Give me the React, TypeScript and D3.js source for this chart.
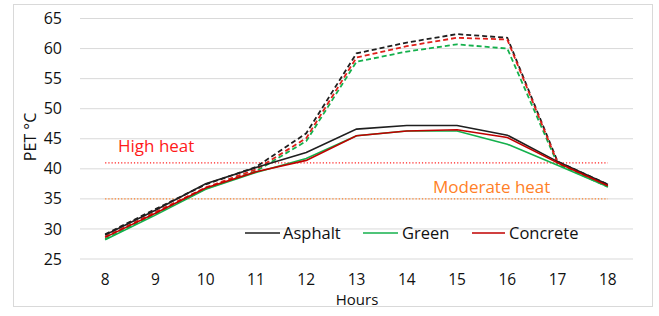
import React from "react";
import * as d3 from "d3";

const hours = [8, 9, 10, 11, 12, 13, 14, 15, 16, 17, 18];
const yTicks = [25, 30, 35, 40, 45, 50, 55, 60, 65];

const asphaltSolid = [29.0, 33.1, 37.5, 40.2, 42.7, 46.6, 47.2, 47.2, 45.6, 41.2, 37.4];
const greenSolid = [28.2, 32.3, 36.6, 39.4, 41.7, 45.5, 46.3, 46.3, 44.1, 40.6, 37.0];
const concreteSolid = [28.6, 32.6, 36.8, 39.5, 41.4, 45.5, 46.3, 46.5, 45.2, 41.0, 37.2];

const asphaltDashed = [29.1, 33.3, 37.4, 40.3, 45.9, 59.2, 61.0, 62.4, 61.8, 41.2, 37.4];
const greenDashed = [28.3, 32.5, 36.7, 39.6, 44.6, 57.8, 59.5, 60.7, 60.0, 40.8, 37.0];
const concreteDashed = [28.7, 32.8, 36.9, 39.9, 45.1, 58.5, 60.4, 61.8, 61.5, 41.0, 37.2];

const highHeat = [41, 41, 41, 41, 41, 41, 41, 41, 41, 41, 41];
const moderateHeat = [35, 35, 35, 35, 35, 35, 35, 35, 35, 35, 35];

const legendNames = ["Asphalt", "Green", "Concrete"];

const W = 659;
const H = 316;
const FONT = "'Open Sans', 'Noto Sans', sans-serif";

export default function App() {
  const x = d3
    .scalePoint<number>()
    .domain(hours)
    .range([80, 633])
    .padding(0.5);
  const y = d3.scaleLinear().domain([25, 65]).range([259, 18.5]);

  const line = d3
    .line<number>()
    .x((_, i) => x(hours[i]) as number)
    .y((d) => y(d));

  const solid = [
    { data: asphaltSolid, color: "#1f1f1f" },
    { data: greenSolid, color: "#14b04c" },
    { data: concreteSolid, color: "#c00000" },
  ];
  const dashed = [
    { data: asphaltDashed, color: "#1f1f1f" },
    { data: greenDashed, color: "#14b04c" },
    { data: concreteDashed, color: "#e0201b" },
  ];

  const legend = [
    { name: legendNames[0], color: "#1f1f1f", x1: 245, x2: 280, tx: 283 },
    { name: legendNames[1], color: "#14b04c", x1: 363, x2: 398, tx: 402 },
    { name: legendNames[2], color: "#c00000", x1: 472, x2: 505, tx: 509 },
  ];

  return (
    <svg
      width={W}
      height={H}
      style={{ position: "absolute", left: 0, top: 0 }}
      fontFamily={FONT}
    >
      <rect x={0} y={0} width={W} height={H} fill="#ffffff" />
      <rect
        x={13.5}
        y={4.5}
        width={639}
        height={302}
        fill="#ffffff"
        stroke="#d9d9d9"
        strokeWidth={1}
      />
      {yTicks.map((t) => (
        <g key={t}>
          <line
            x1={80}
            x2={633}
            y1={y(t)}
            y2={y(t)}
            stroke="#d9d9d9"
            strokeWidth={1}
          />
          <text
            x={62}
            y={y(t)}
            dy="0.35em"
            textAnchor="end"
            fontSize={16}
            fill="#111"
          >
            {t}
          </text>
        </g>
      ))}
      {hours.map((h) => (
        <text
          key={h}
          x={x(h)}
          y={280}
          dy="0.35em"
          textAnchor="middle"
          fontSize={15.5}
          fill="#111"
        >
          {h}
        </text>
      ))}
      <text
        x={357}
        y={300}
        dy="0.35em"
        textAnchor="middle"
        fontSize={15}
        fill="#111"
      >
        Hours
      </text>
      <text
        transform={`translate(30,137) rotate(-90)`}
        textAnchor="middle"
        dy="0.35em"
        fontSize={16}
        fill="#111"
      >
        PET °C
      </text>

      <path
        d={line(highHeat) || ""}
        fill="none"
        stroke="#ff2020"
        strokeWidth={1.2}
        strokeDasharray="1.2 2"
      />
      <path
        d={line(moderateHeat) || ""}
        fill="none"
        stroke="#ff7f27"
        strokeWidth={1.2}
        strokeDasharray="1.2 2"
      />
      <text x={118} y={146} dy="0.35em" fontSize={17} fill="#ff1a1a">
        High heat
      </text>
      <text x={433} y={187} dy="0.35em" fontSize={17} fill="#ff7f27">
        Moderate heat
      </text>

      {dashed.map((s, i) => (
        <path
          key={"d" + i}
          d={line(s.data) || ""}
          fill="none"
          stroke={s.color}
          strokeWidth={1.8}
          strokeDasharray="5 3"
        />
      ))}
      {solid.map((s, i) => (
        <path
          key={"s" + i}
          d={line(s.data) || ""}
          fill="none"
          stroke={s.color}
          strokeWidth={1.6}
        />
      ))}

      {legend.map((l) => (
        <g key={l.name}>
          <line
            x1={l.x1}
            x2={l.x2}
            y1={233}
            y2={233}
            stroke={l.color}
            strokeWidth={1.5}
          />
          <text x={l.tx} y={233} dy="0.35em" fontSize={16.5} fill="#111">
            {l.name}
          </text>
        </g>
      ))}
    </svg>
  );
}
